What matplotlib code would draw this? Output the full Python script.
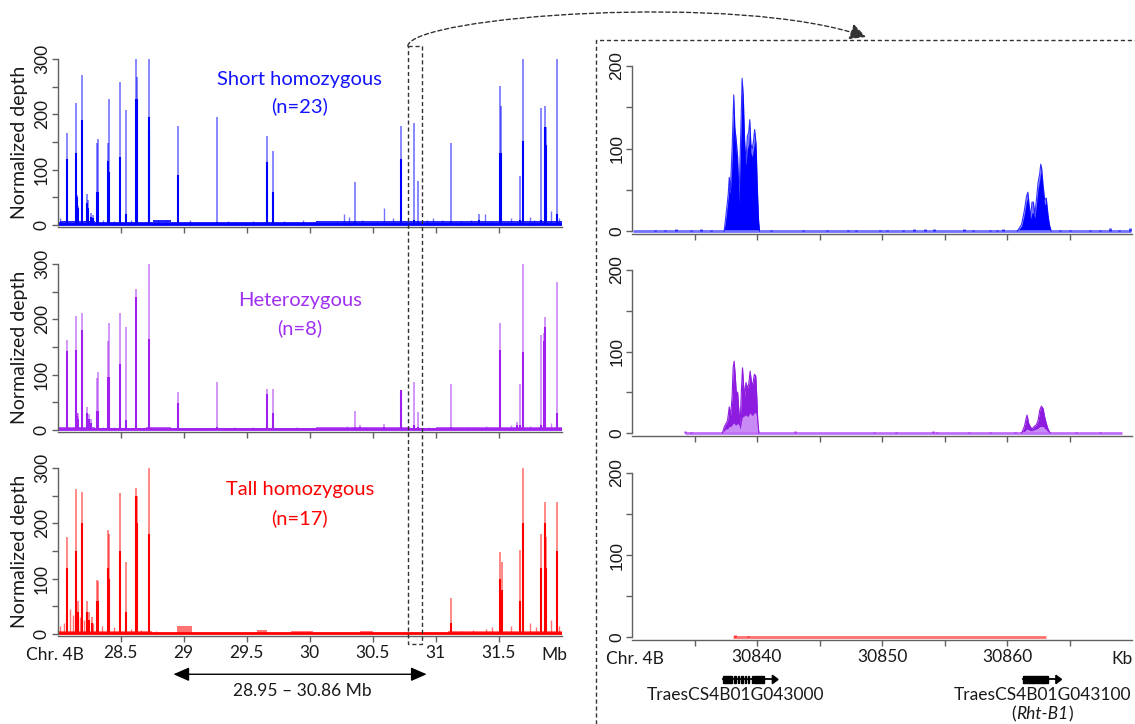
import matplotlib
matplotlib.use("Agg")
import matplotlib.pyplot as plt
from matplotlib.path import Path
from matplotlib.patches import FancyArrowPatch, Rectangle, Polygon
from matplotlib.offsetbox import TextArea, HPacker, AnnotationBbox

plt.rcParams['font.family'] = ['Lato', 'DejaVu Sans']

# ---------------- data ----------------
group_names = ["Short homozygous", "Heterozygous", "Tall homozygous"]
group_n = [23, 8, 17]
group_colors = ["#0000FF", "#A020F0", "#FF0000"]
text_colors = ["#1414FF", "#A030F0", "#FF0000"]

mb_ticks = [28.5, 29, 29.5, 30, 30.5, 31, 31.5]
mb_tick_labels = ["28.5", "29", "29.5", "30", "30.5", "31", "31.5"]
depth_ticks = [0, 100, 200, 300]
depth_minor = [50, 150, 250]

# Short homozygous (blue) spikes: position (Mb), max across samples, core level
short_pos = [28.073, 28.147, 28.152, 28.160, 28.194, 28.232, 28.240, 28.262, 28.280,
             28.311, 28.324, 28.403, 28.411, 28.496, 28.544, 28.623, 28.628, 28.724,
             28.730, 28.954, 29.268, 29.660, 29.713, 30.361, 30.724, 30.832, 30.859,
             31.121, 31.343, 31.512, 31.517, 31.671, 31.697, 31.837, 31.869, 31.875, 31.962]
short_max = [167, 220, 55, 35, 271, 56, 45, 22, 18, 149, 155, 149, 228, 259, 208, 300, 268,
             300, 172, 179, 196, 160, 134, 78, 179, 185, 80, 149, 20, 251, 215, 89, 300,
             211, 215, 178, 300]
short_core = [120, 131, 50, 30, 190, 40, 30, 15, 12, 60, 60, 115, 95, 123, 20, 228, 228,
              195, 172, 90, 5, 113, 60, 5, 119, 10, 5, 5, 10, 131, 131, 10, 151, 10, 178,
              145, 20]
short_minor_pos = [28.02, 28.36, 28.45, 28.58, 28.80, 28.86, 29.05, 29.12, 29.35, 29.42,
                   29.55, 29.80, 29.95, 30.05, 30.27, 30.31, 30.42, 30.59, 30.66, 30.93,
                   30.98, 31.05, 31.20, 31.28, 31.39, 31.45, 31.60, 31.75, 31.78, 31.92, 31.98]
short_minor_h = [12, 10, 8, 10, 8, 8, 10, 6, 8, 6, 8, 8, 10, 8, 20, 15, 10, 30, 12, 10, 12,
                 10, 8, 10, 20, 8, 12, 15, 10, 25, 12]
short_base_x = [28.0, 28.02, 28.30, 28.70, 28.76, 28.90, 29.45, 30.05, 30.55, 30.80, 31.00,
                31.50, 32.0]
short_base_y = [6, 8, 6, 6, 10, 6, 6, 7, 8, 7, 7, 8]

# Heterozygous (purple)
het_pos = [28.073, 28.147, 28.155, 28.165, 28.194, 28.232, 28.248, 28.262, 28.311, 28.324,
           28.403, 28.411, 28.496, 28.544, 28.623, 28.724, 28.954, 29.268, 29.660, 29.713,
           30.361, 30.400, 30.590, 30.724, 30.832, 30.859, 31.121, 31.512, 31.650, 31.671,
           31.697, 31.837, 31.862, 31.869, 31.962]
het_max = [162, 206, 30, 30, 211, 41, 29, 20, 94, 104, 160, 193, 211, 187, 254, 300, 69, 87,
           75, 75, 35, 9, 11, 73, 86, 33, 83, 193, 15, 84, 300, 172, 175, 205, 267]
het_core = [143, 145, 25, 20, 181, 30, 20, 12, 34, 34, 95, 95, 119, 18, 241, 164, 48, 5,
            66, 30, 5, 5, 5, 73, 10, 5, 5, 145, 10, 10, 141, 10, 160, 187, 30]
het_minor_pos = [28.02, 28.36, 28.45, 28.80, 29.10, 29.40, 29.55, 29.90, 30.10, 30.30,
                 30.45, 30.95, 31.05, 31.25, 31.40, 31.60, 31.75, 31.92]
het_minor_h = [6, 6, 5, 4, 4, 5, 6, 5, 4, 8, 6, 6, 5, 6, 8, 10, 8, 12]
het_base_x = [28.0, 28.30, 28.70, 28.90, 29.50, 30.05, 30.80, 31.00, 31.50, 32.0]
het_base_y = [5, 4, 5, 4, 4, 5, 4, 6, 5]

# Tall homozygous (red)
tall_pos = [28.073, 28.147, 28.160, 28.194, 28.232, 28.250, 28.270, 28.311, 28.324, 28.403,
            28.411, 28.496, 28.544, 28.623, 28.628, 28.724, 31.121, 31.512, 31.530, 31.671,
            31.697, 31.837, 31.869, 31.875, 31.962]
tall_max = [175, 262, 60, 257, 60, 40, 30, 98, 95, 188, 180, 255, 130, 264, 250, 300, 65,
            148, 130, 152, 300, 180, 238, 175, 238]
tall_core = [120, 150, 40, 200, 40, 25, 20, 60, 60, 120, 100, 150, 40, 250, 200, 180, 20,
             100, 80, 60, 200, 120, 200, 120, 150]
tall_minor_pos = [28.02, 28.05, 28.10, 28.12, 28.18, 28.21, 28.28, 28.35, 28.45, 28.58,
                  28.66, 28.78, 31.20, 31.30, 31.40, 31.45, 31.60, 31.75, 31.80, 31.92, 31.98]
tall_minor_h = [15, 20, 45, 35, 30, 25, 20, 15, 12, 10, 8, 6, 5, 8, 10, 12, 15, 20, 12, 25, 15]
tall_base_x = [28.0, 28.75, 28.95, 29.07, 29.58, 29.66, 29.85, 30.03, 30.40, 30.50, 31.10, 32.0]
tall_base_y = [5, 2, 15, 2, 8, 2, 5, 2, 5, 2, 5]

# Right panels: zoom 30830-30870 kb
kb_ticks = [30835, 30840, 30845, 30850, 30855, 30860, 30865]
kb_tick_labels = ["", "30840", "", "30850", "", "30860", ""]
zdepth_ticks = [0, 100, 200]
zdepth_minor = [50, 150]

short_z_span = [30830.1, 30869.9]
short_p1_x = [30837.37, 30837.45, 30837.56, 30837.70, 30837.78, 30837.87, 30838.01, 30838.14,
              30838.23, 30838.34, 30838.45, 30838.56, 30838.67, 30838.81, 30838.90, 30839.01,
              30839.12, 30839.23, 30839.34, 30839.42, 30839.51, 30839.62, 30839.73, 30839.81,
              30839.93, 30840.01, 30840.12, 30840.20]
short_p1_max = [0, 10, 25, 45, 65, 50, 100, 165, 125, 110, 90, 40, 100, 185, 165, 110, 85,
                115, 120, 135, 105, 100, 110, 123, 105, 60, 15, 0]
short_p1_core = [0, 8, 20, 40, 55, 45, 85, 150, 115, 95, 80, 35, 90, 170, 150, 95, 80, 100,
                 105, 120, 95, 90, 100, 110, 95, 50, 10, 0]
short_p2_x = [30860.83, 30861.17, 30861.39, 30861.56, 30861.67, 30861.78, 30861.89, 30862.00,
              30862.11, 30862.23, 30862.37, 30862.48, 30862.62, 30862.70, 30862.78, 30862.89,
              30863.01, 30863.14, 30863.28, 30863.39, 30863.53]
short_p2_max = [0, 8, 25, 42, 47, 30, 18, 35, 35, 20, 40, 58, 70, 81, 75, 55, 38, 40, 20, 8, 0]
short_p2_core = [0, 6, 20, 36, 40, 24, 15, 22, 22, 16, 34, 50, 62, 72, 66, 48, 32, 34, 16, 6, 0]
short_bump_x = [30831.80, 30832.63, 30833.55, 30834.72, 30835.50, 30836.31, 30841.12,
                30843.68, 30845.57, 30847.24, 30847.94, 30849.83, 30850.36, 30851.69,
                30852.58, 30853.45, 30854.12, 30856.56, 30857.26, 30858.65, 30859.21,
                30859.71, 30864.22, 30865.05, 30866.64, 30867.42, 30868.25, 30868.95, 30869.86]
short_bump_h = [1, 1.5, 2, 1.5, 2, 1, 1.5, 1, 1.5, 1, 1, 1, 1.5, 1, 2, 2, 2.5, 2, 1, 1, 1.5,
                2, 1.5, 1.5, 1.5, 1, 3.5, 1, 3.5]

het_z_span = [30834.2, 30869.2]
het_p1_x = [30837.23, 30837.39, 30837.50, 30837.64, 30837.78, 30837.89, 30838.01, 30838.09,
            30838.17, 30838.26, 30838.34, 30838.45, 30838.56, 30838.65, 30838.76, 30838.84,
            30838.92, 30839.03, 30839.12, 30839.23, 30839.34, 30839.45, 30839.56, 30839.67,
            30839.79, 30839.90, 30839.98, 30840.06, 30840.15]
het_p1_max = [0, 8, 11, 15, 32, 22, 45, 80, 88, 70, 50, 50, 25, 10, 55, 80, 60, 45, 62, 55,
              60, 76, 62, 60, 72, 70, 45, 15, 0]
het_p1_inner = [0, 3, 5, 5, 8, 8, 10, 12, 12, 10, 10, 12, 10, 5, 15, 20, 20, 22, 22, 20, 22,
                25, 22, 22, 25, 25, 20, 8, 0]
het_p2_x = [30861.17, 30861.39, 30861.53, 30861.61, 30861.73, 30861.86, 30862.00, 30862.17,
            30862.34, 30862.48, 30862.62, 30862.75, 30862.89, 30863.01, 30863.14, 30863.28,
            30863.45]
het_p2_max = [0, 8, 18, 22, 12, 8, 5, 8, 10, 15, 28, 33, 30, 20, 12, 5, 0]
het_p2_inner = [0, 2, 4, 5, 4, 3, 3, 4, 5, 6, 8, 8, 8, 6, 4, 2, 0]
het_bump_x = [30834.25, 30834.72, 30843.07, 30849.33, 30851.08, 30854.06, 30854.42,
              30856.98, 30858.65, 30860.61, 30865.55, 30867.47]
het_bump_h = [2, 0.8, 2, 1, 1, 2, 1, 1, 0.8, 1, 1.5, 1.5]

tall_z_span = [30838.1, 30863.1]
tall_bump_x = [30838.20, 30839.30]
tall_bump_h = [2.5, 1.5]

genes = ["TraesCS4B01G043000", "TraesCS4B01G043100"]
gene1_exons = [(30837.31, 30838.00), (30838.17, 30838.28), (30838.45, 30838.56),
               (30838.73, 30838.84), (30839.00, 30839.11), (30839.28, 30839.39),
               (30839.56, 30839.67), (30839.73, 30840.56)]
gene1_tip = 30841.68
gene2_exons = [(30861.24, 30863.24)]
gene2_tip = 30864.36

# ---------------- layout ----------------
W, H = 1135, 724
fig = plt.figure(figsize=(W / 100, H / 100), dpi=100)


def px_rect(left, top, right, bottom):
    return [left / W, 1 - bottom / H, (right - left) / W, (bottom - top) / H]


AX_COL = "#606060"
LBL_COL = "#1a1a1a"

left_rows = [(59, 226.7), (264, 431.7), (468, 635.7)]
right_rows = [(66, 233.5), (270, 435.5), (473, 639.5)]
left_axes = [fig.add_axes(px_rect(57.5, t, 561.5, b)) for t, b in left_rows]
right_axes = [fig.add_axes(px_rect(632, t, 1132, b)) for t, b in right_rows]


def style(ax, xlim, ylim, ytop, yt, ym, xt, xl, show_x, yfont):
    ax.set_xlim(*xlim)
    ax.set_ylim(*ylim)
    ax.patch.set_alpha(0)
    for s in ["top", "right"]:
        ax.spines[s].set_visible(False)
    for s in ["left", "bottom"]:
        ax.spines[s].set_color(AX_COL)
        ax.spines[s].set_linewidth(1.0)
    ax.spines["left"].set_bounds(0, ytop)
    ax.set_yticks(yt)
    ax.set_yticks(ym, minor=True)
    ax.set_yticklabels([str(v) for v in yt], rotation=90, va="center",
                       fontsize=12.5, color=LBL_COL, **yfont)
    ax.set_xticks(xt)
    ax.tick_params(axis="both", which="both", direction="out", length=4, width=1,
                   color=AX_COL)
    ax.tick_params(axis="y", pad=1.5)
    ax.tick_params(axis="x", pad=3)
    if show_x:
        ax.set_xticklabels(xl, fontsize=12.5, color=LBL_COL)
    else:
        ax.set_xticklabels([])


left_data = [
    (short_pos, short_max, short_core, short_minor_pos, short_minor_h, short_base_x, short_base_y),
    (het_pos, het_max, het_core, het_minor_pos, het_minor_h, het_base_x, het_base_y),
    (tall_pos, tall_max, tall_core, tall_minor_pos, tall_minor_h, tall_base_x, tall_base_y),
]
text_y = [(0.88, 0.72), (0.78, 0.62), (0.87, 0.70)]
base_alpha = [0.85, 0.7, 0.55]

for i, ax in enumerate(left_axes):
    pos, mx, core, mpos, mh, bx, by = left_data[i]
    col = group_colors[i]
    style(ax, (28.0, 32.0), (-3, 300), 300, depth_ticks, depth_minor, mb_ticks,
          mb_tick_labels, i == 2, {})
    ax.stairs(by, bx, baseline=0, fill=True, color=col, alpha=base_alpha[i], lw=0)
    ax.plot([28.0, 32.0], [1.2, 1.2], color=col, lw=2.0, solid_capstyle="butt")
    ax.vlines(mpos, 0, mh, color=col, alpha=0.55, lw=1.0)
    ax.vlines(pos, 0, mx, color=col, alpha=0.5, lw=1.3)
    ax.vlines(pos, 0, core, color=col, lw=1.5)
    ax.text(-0.075, 0.5, "Normalized depth", transform=ax.transAxes, rotation=90,
            ha="center", va="center", fontsize=14, color=LBL_COL)
    ax.text(0.481, text_y[i][0], group_names[i], transform=ax.transAxes, ha="center",
            va="center", fontsize=14.5, color=text_colors[i])
    ax.text(0.481, text_y[i][1], "(n=%d)" % group_n[i], transform=ax.transAxes,
            ha="center", va="center", fontsize=14.5, color=text_colors[i])

axb = left_axes[2]
xa = axb.get_xaxis_transform()
axb.text(27.98, -0.07, "Chr. 4B", transform=xa, ha="center", va="top", fontsize=12.5,
         color=LBL_COL)
axb.text(31.94, -0.07, "Mb", transform=xa, ha="center", va="top", fontsize=12.5,
         color=LBL_COL)
axb.annotate("", xy=(30.93, -0.23), xytext=(28.92, -0.23), xycoords=xa, textcoords=xa,
             arrowprops=dict(arrowstyle="<|-|>,head_length=0.8,head_width=0.35",
                             color="black", lw=1.0, shrinkA=0, shrinkB=0,
                             mutation_scale=12))
axb.text(29.94, -0.33, "28.95 \u2013 30.86 Mb", transform=xa, ha="center", va="center",
         fontsize=12.5, color=LBL_COL)

# right panels
right_peaks = [
    [(short_p1_x, short_p1_max, short_p1_core), (short_p2_x, short_p2_max, short_p2_core)],
    [(het_p1_x, het_p1_max, het_p1_inner), (het_p2_x, het_p2_max, het_p2_inner)],
    [],
]
right_spans = [short_z_span, het_z_span, tall_z_span]
right_bumps = [(short_bump_x, short_bump_h), (het_bump_x, het_bump_h), (tall_bump_x, tall_bump_h)]
light_cols = ["#7070FF", "#C070F8", "#FF7070"]

for i, ax in enumerate(right_axes):
    col = group_colors[i]
    style(ax, (30830, 30870), (-3, 200), 200, zdepth_ticks, zdepth_minor, kb_ticks,
          kb_tick_labels, i == 2, {"family": ["Liberation Sans"]})
    sp = right_spans[i]
    ax.plot(sp, [0.6, 0.6], color=light_cols[i], lw=2.0, solid_capstyle="butt")
    bxs, bhs = right_bumps[i]
    ax.vlines(bxs, 0, bhs, color=col, alpha=0.7, lw=2.0)
    for px, pmax, pin in right_peaks[i]:
        if i == 0:
            ax.fill_between(px, 0, pmax, color=col, alpha=0.55, lw=0)
            ax.fill_between(px, 0, pin, color=col, lw=0)
            ax.plot(px, pmax, color=col, lw=0.8, alpha=0.8)
        else:
            ax.fill_between(px, 0, pmax, color="#8E1BE0", lw=0)
            ax.plot(px, pmax, color="#8E1BE0", lw=0.8)
            ax.fill_between(px, 0, pin, color="#C88AF5", lw=0)

axr = right_axes[2]
xr = axr.get_xaxis_transform()
axr.text(30830.2, -0.07, "Chr. 4B", transform=xr, ha="center", va="top", fontsize=12.5,
         color=LBL_COL)
axr.text(30869.2, -0.07, "Kb", transform=xr, ha="center", va="top", fontsize=12.5,
         color=LBL_COL)

# gene models
gy, gh = -0.24, 0.046
for exons, tip in [(gene1_exons, gene1_tip), (gene2_exons, gene2_tip)]:
    start, end = exons[0][0], exons[-1][1]
    axr.plot([start, tip - 0.35], [gy, gy], transform=xr, color="black", lw=1.3,
             clip_on=False)
    for a, b in exons:
        axr.add_patch(Rectangle((a, gy - gh / 2), b - a, gh, transform=xr,
                                color="black", clip_on=False))
    axr.add_patch(Polygon([(tip - 0.45, gy + gh * 0.55), (tip, gy), (tip - 0.45, gy - gh * 0.55)],
                          closed=True, transform=xr, color="black", clip_on=False))

axr.text(30838.3, -0.335, genes[0], transform=xr, ha="center", va="center",
         fontsize=12.5, color=LBL_COL)
axr.text(30862.8, -0.335, genes[1], transform=xr, ha="center", va="center",
         fontsize=12.5, color=LBL_COL)
rht = HPacker(children=[TextArea("(", textprops=dict(fontsize=12.5, color=LBL_COL)),
                        TextArea("Rht-B1", textprops=dict(fontsize=12.5, color=LBL_COL,
                                                         style="italic")),
                        TextArea(")", textprops=dict(fontsize=12.5, color=LBL_COL))],
              pad=0, sep=0, align="baseline")
axr.add_artist(AnnotationBbox(rht, (30862.8, -0.45), xycoords=xr, frameon=False,
                              box_alignment=(0.5, 0.5), annotation_clip=False))

# overlay: dashed boxes and curved arrow
ov = fig.add_axes([0, 0, 1, 1], zorder=20)
ov.set_xlim(0, W)
ov.set_ylim(H, 0)
ov.axis("off")
ov.patch.set_alpha(0)
DASH = (0, (3, 2))
ov.plot([596, 596, W], [H, 40, 40], ls=DASH, color="#333333", lw=1.0)

box_mb = (30.78, 30.89)
xl0 = left_axes[0].transData.transform((box_mb[0], 0))[0]
xl1 = left_axes[0].transData.transform((box_mb[1], 0))[0]
bx0 = ov.transData.inverted().transform((xl0, 0))[0]
bx1 = ov.transData.inverted().transform((xl1, 0))[0]
ov.add_patch(Rectangle((bx0, 46), bx1 - bx0, 598, fill=False, ls=DASH, ec="#333333", lw=1.0))

verts = [(bx0, 46), (bx0 + 4, 16), (740, -8), (866, 37)]
codes = [Path.MOVETO, Path.CURVE4, Path.CURVE4, Path.CURVE4]
ov.add_patch(FancyArrowPatch(path=Path(verts, codes),
                             arrowstyle="-|>,head_length=0.7,head_width=0.35",
                             mutation_scale=14, ls=DASH, color="#333333", lw=1.0))

fig.savefig("out.png", dpi=100)
